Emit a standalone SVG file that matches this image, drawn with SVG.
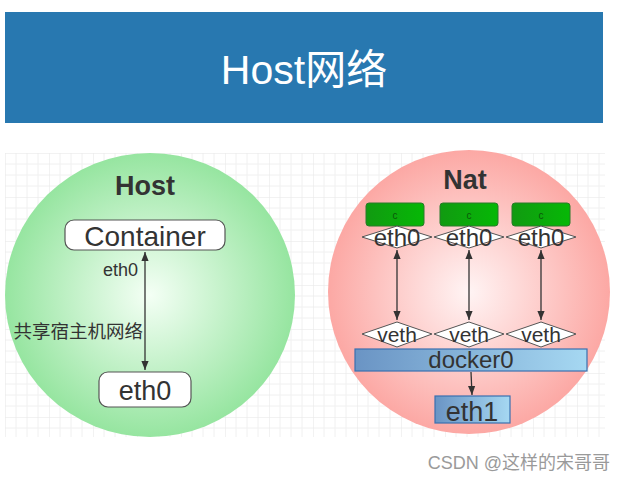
<svg xmlns="http://www.w3.org/2000/svg" width="626" height="482" viewBox="0 0 626 482">
<style>
.t{font-family:"Liberation Sans",Arial,"Noto Sans CJK SC",sans-serif;fill:#333}
.b{font-weight:bold}
.box{fill:#fff;stroke:#555;stroke-width:1.2}
.dia{fill:#fff;stroke:#555;stroke-width:1}
.gbox{fill:url(#gg);stroke:#2a7a2a;stroke-width:1}
.ln{stroke:#333;stroke-width:1.3;fill:none}
</style>
<defs>
<pattern id="grid" x="5" y="153" width="44" height="44" patternUnits="userSpaceOnUse">
<path d="M11 0V44M22 0V44M33 0V44M0 11H44M0 22H44M0 33H44" stroke="#f0f0f0" stroke-width="1"/>
<path d="M0 0V44M0 0H44" stroke="#e6e6e6" stroke-width="1"/>
</pattern>
<radialGradient id="gr" cx="0.5" cy="0.5" r="0.5">
<stop offset="0" stop-color="#f4fff5"/>
<stop offset="1" stop-color="#96e5a0"/>
</radialGradient>
<radialGradient id="pr" cx="0.5" cy="0.5" r="0.5">
<stop offset="0" stop-color="#fff4f4"/>
<stop offset="1" stop-color="#fca8a4"/>
</radialGradient>
<linearGradient id="bg" x1="0" y1="0" x2="1" y2="0">
<stop offset="0" stop-color="#6a94c4"/>
<stop offset="1" stop-color="#a6d8f2"/>
</linearGradient>
<linearGradient id="gg" x1="0" y1="0" x2="1" y2="0">
<stop offset="0" stop-color="#119a11"/>
<stop offset="1" stop-color="#06b806"/>
</linearGradient>
<marker id="ah" viewBox="0 0 10 10" refX="10" refY="5" markerWidth="7" markerHeight="7" orient="auto-start-reverse">
<path d="M0 1L10 5L0 9Z" fill="#333"/>
</marker>
</defs>
<rect width="626" height="482" fill="#fff"/>
<g id="banner">
<rect x="5" y="12" width="598" height="111" fill="#2878b0"/>
<text class="t" x="304" y="84" font-size="41" text-anchor="middle" style="fill:#fff">Host网络</text>
</g>
<rect x="5" y="153" width="600" height="284" fill="url(#grid)"/>
<g id="host">
<ellipse cx="150" cy="295" rx="145" ry="142" fill="url(#gr)"/>
<text class="t b" x="145" y="195" font-size="27" text-anchor="middle">Host</text>
</g>
<g id="nat">
<ellipse cx="469" cy="292" rx="141" ry="142" fill="url(#pr)"/>
<text class="t b" x="465" y="189" font-size="27" text-anchor="middle">Nat</text>
</g>
<g id="container">
<rect class="box" x="65" y="220" width="160" height="30" rx="9"/>
<text class="t" x="145" y="246" font-size="28" text-anchor="middle">Container</text>
</g>
<g id="host-eth0">
<rect class="box" x="99" y="372" width="92" height="35" rx="9"/>
<text class="t" x="145" y="400" font-size="27" text-anchor="middle">eth0</text>
</g>
<g id="c1"><rect class="gbox" x="366" y="203" width="58" height="23" rx="3"/><text class="t" x="395" y="219" font-size="10" text-anchor="middle" style="fill:#0a5a0a">c</text></g>
<g id="c2"><rect class="gbox" x="440" y="203" width="58" height="23" rx="3"/><text class="t" x="469" y="219" font-size="10" text-anchor="middle" style="fill:#0a5a0a">c</text></g>
<g id="c3"><rect class="gbox" x="512" y="203" width="58" height="23" rx="3"/><text class="t" x="541" y="219" font-size="10" text-anchor="middle" style="fill:#0a5a0a">c</text></g>
<g id="e1"><path class="dia" d="M362 237L397 226L432 237L397 248Z"/><text class="t" x="397" y="246" font-size="24" text-anchor="middle">eth0</text></g>
<g id="e2"><path class="dia" d="M434 237L469 226L504 237L469 248Z"/><text class="t" x="469" y="246" font-size="24" text-anchor="middle">eth0</text></g>
<g id="e3"><path class="dia" d="M506 237L541 226L576 237L541 248Z"/><text class="t" x="541" y="246" font-size="24" text-anchor="middle">eth0</text></g>
<g id="v1"><path class="dia" d="M362 334L397 322L432 334L397 347Z"/><text class="t" x="397" y="342" font-size="21" text-anchor="middle">veth</text></g>
<g id="v2"><path class="dia" d="M434 334L469 322L504 334L469 347Z"/><text class="t" x="469" y="342" font-size="21" text-anchor="middle">veth</text></g>
<g id="v3"><path class="dia" d="M506 334L541 322L576 334L541 347Z"/><text class="t" x="541" y="342" font-size="21" text-anchor="middle">veth</text></g>
<g id="docker0">
<rect x="355" y="349" width="232" height="22" fill="url(#bg)" stroke="#3a70b0" stroke-width="1.2"/>
<text class="t" x="471" y="368" font-size="24" text-anchor="middle">docker0</text>
</g>
<g id="eth1">
<rect x="435" y="396" width="75" height="27" fill="url(#bg)" stroke="#3a70b0" stroke-width="1.2"/>
<text class="t" x="472" y="421" font-size="27" text-anchor="middle">eth1</text>
</g>
<g id="connectors">
<line class="ln" x1="145" y1="252" x2="145" y2="370" marker-start="url(#ah)" marker-end="url(#ah)"/>
<line class="ln" x1="397" y1="250" x2="397" y2="320" marker-start="url(#ah)" marker-end="url(#ah)"/>
<line class="ln" x1="469" y1="250" x2="469" y2="320" marker-start="url(#ah)" marker-end="url(#ah)"/>
<line class="ln" x1="541" y1="250" x2="541" y2="320" marker-start="url(#ah)" marker-end="url(#ah)"/>
<line class="ln" x1="471" y1="372" x2="472" y2="395" marker-end="url(#ah)"/>
<text class="t" x="138" y="276" font-size="18" text-anchor="end">eth0</text>
<text class="t" x="143" y="338" font-size="18.5" text-anchor="end">共享宿主机网络</text>
</g>
<text class="t" x="610" y="469" font-size="18" text-anchor="end" style="fill:#9a9a9a">CSDN @这样的宋哥哥</text>
</svg>
